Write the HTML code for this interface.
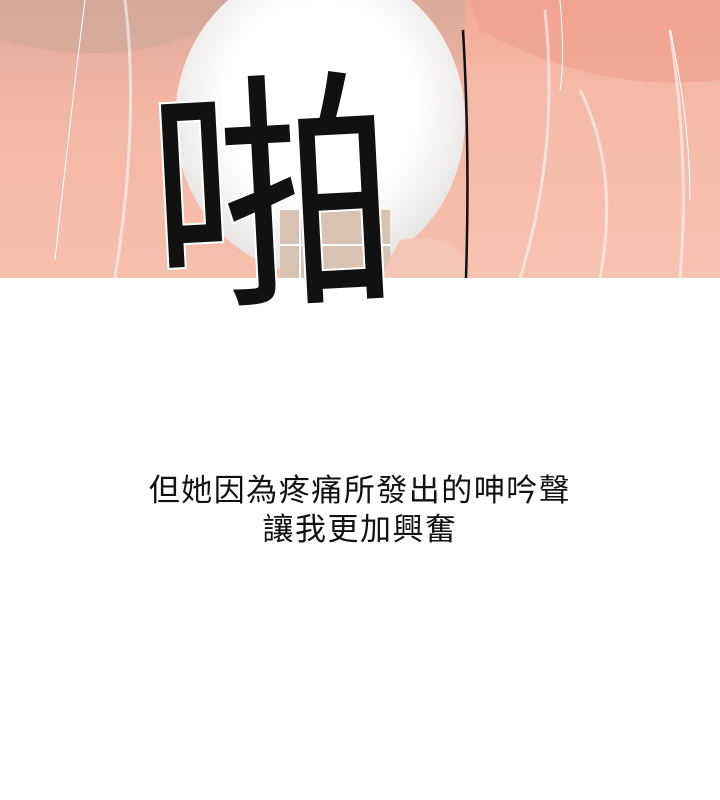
<!DOCTYPE html>
<html><head><meta charset="utf-8">
<style>
html,body{margin:0;padding:0;background:#fff;}
body{width:720px;height:800px;position:relative;overflow:hidden;font-family:"Liberation Sans","Noto Sans CJK TC",sans-serif;}
#panel{position:absolute;left:0;top:0;width:720px;height:278px;overflow:visible;}
.caption{position:absolute;left:0;width:720px;text-align:center;font-size:31px;color:#111;letter-spacing:1.5px;line-height:38px;}
</style></head>
<body>
<div id="panel">
<svg width="720" height="310" viewBox="0 0 720 310" style="position:absolute;left:0;top:0">
  <defs>
    <linearGradient id="skinL" x1="0" y1="0" x2="0" y2="1">
      <stop offset="0" stop-color="#d9a99a"/>
      <stop offset="0.35" stop-color="#f2b6a2"/>
      <stop offset="1" stop-color="#f6c0ad"/>
    </linearGradient>
    <linearGradient id="skinR" x1="0" y1="0" x2="0" y2="1">
      <stop offset="0" stop-color="#f3a996"/>
      <stop offset="0.3" stop-color="#f5b9a5"/>
      <stop offset="1" stop-color="#f6c3b0"/>
    </linearGradient>
    <radialGradient id="glow" cx="0.5" cy="0.45" r="0.55">
      <stop offset="0.6" stop-color="#ffffff"/>
      <stop offset="1" stop-color="#e8e4e4"/>
    </radialGradient>
  </defs>
  <rect x="0" y="0" width="720" height="278" fill="url(#skinL)"/>
  <rect x="465" y="0" width="255" height="278" fill="url(#skinR)"/>
  <path d="M0 0 H250 Q150 80 0 40 Z" fill="#cfa89c" opacity="0.6"/>
  <path d="M470 0 H720 V80 Q600 95 480 30 Z" fill="#f0a18e" opacity="0.7"/>
  <ellipse cx="320" cy="120" rx="145" ry="155" fill="url(#glow)"/>
  <rect x="280" y="210" width="110" height="68" fill="#d8c3b3"/>
  <line x1="300" y1="210" x2="300" y2="278" stroke="#fff" stroke-width="2"/>
  <line x1="280" y1="245" x2="390" y2="245" stroke="#fff" stroke-width="2"/>
  <path d="M400 240 Q470 230 465 278 H380 Z" fill="#f3c6b6"/>
  <path d="M463 30 Q470 150 466 278" stroke="#111" stroke-width="2.5" fill="none"/>
  <g stroke="#fff" stroke-opacity="0.55" stroke-width="3" fill="none">
    <path d="M125 0 Q140 120 115 278"/>
    <path d="M545 10 Q560 150 520 278"/>
    <path d="M580 90 Q620 170 600 278"/>
    <path d="M670 30 Q690 160 680 278"/>
  </g>
  <g stroke="#fff" stroke-width="1" fill="none">
    <path d="M85 0 Q70 120 55 260"/>
    <path d="M560 0 Q565 60 560 90"/>
    <path d="M670 30 Q690 120 690 200"/>
  </g>
  <text x="272" y="285" font-size="250" text-anchor="middle" font-family="'Noto Sans CJK TC','WenQuanYi Zen Hei',sans-serif" font-weight="400" fill="#111" stroke="#fff" stroke-width="4" paint-order="stroke" transform="rotate(-3 270 180)">啪</text>
</svg>
</div>
<div class="caption" style="top:472px">但她因為疼痛所發出的呻吟聲</div>
<div class="caption" style="top:511px">讓我更加興奮</div>
</body></html>
